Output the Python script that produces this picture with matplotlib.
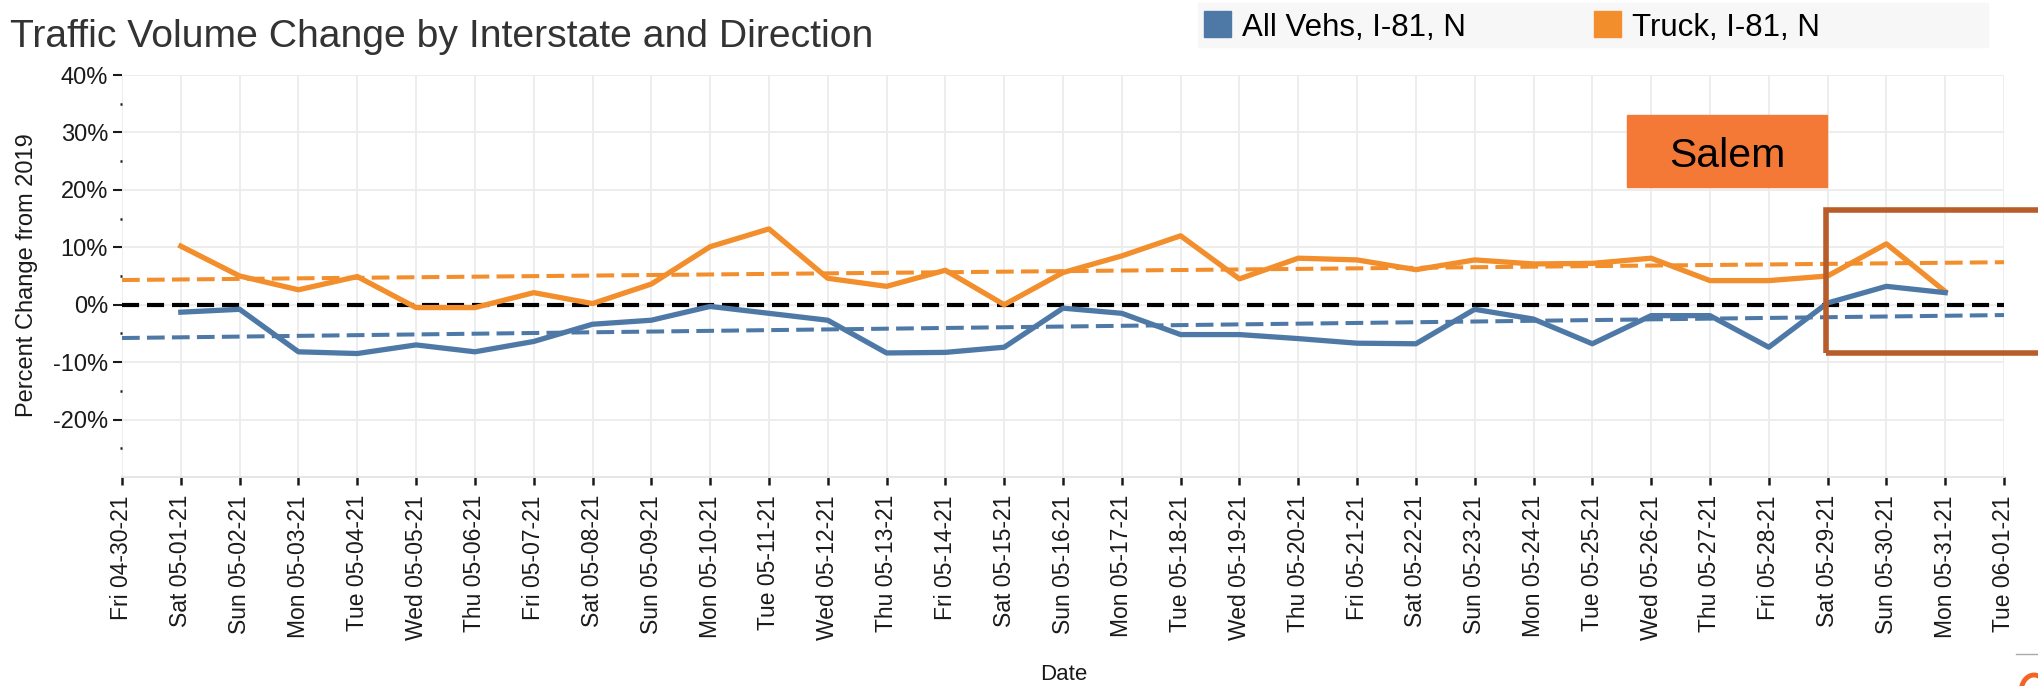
import matplotlib.pyplot as plt
import matplotlib.dates as mdates
from matplotlib.patches import Rectangle, Ellipse
import pandas as pd

plt.rcParams['font.family'] = ['Liberation Sans', 'DejaVu Sans']

# data (percent change from 2019), one value per day 05-01 .. 05-31
dates = pd.date_range('2021-05-01', '2021-05-31', freq='D')
all_vehs = [-1.3, -0.8, -8.2, -8.5, -7.0, -8.2, -6.4, -3.4, -2.7, -0.3, -1.5,
            -2.7, -8.4, -8.3, -7.4, -0.6, -1.5, -5.2, -5.2, -5.9, -6.7, -6.8,
            -0.8, -2.5, -6.8, -1.9, -1.9, -7.4, 0.3, 3.2, 2.1]
truck = [10.2, 5.0, 2.6, 4.9, -0.5, -0.5, 2.1, 0.2, 3.6, 10.1, 13.2,
         4.6, 3.2, 6.0, 0.0, 5.6, 8.5, 12.0, 4.5, 8.1, 7.8, 6.1,
         7.8, 7.1, 7.2, 8.1, 4.2, 4.2, 5.0, 10.6, 2.3]

# trend line end values at the axis edges
trend_dates = pd.to_datetime(['2021-04-30', '2021-06-01'])
all_vehs_trend = [-5.8, -1.8]
truck_trend = [4.3, 7.4]

y_ticks = [-20, -10, 0, 10, 20, 30, 40]
series_names = ['All Vehs, I-81, N', 'Truck, I-81, N']

BLUE = '#4e79a7'
ORANGE = '#f28e2b'
TXT = '#1a1a1a'
W, H = 2038, 686

fig = plt.figure(figsize=(W / 100, H / 100), dpi=100)
ax = fig.add_axes([122 / W, 1 - 477 / H, 1882 / W, 402 / H])

ax.plot(trend_dates, truck_trend, color=ORANGE, lw=2.9, dashes=(4.4, 1.8))
ax.plot(trend_dates, all_vehs_trend, color=BLUE, lw=2.9, dashes=(4.4, 1.8))
ax.axhline(0, color='black', lw=3, dashes=(4.1, 1.9), zorder=3)
ax.plot(dates, truck, color=ORANGE, lw=3.8, zorder=4)
ax.plot(dates, all_vehs, color=BLUE, lw=3.8, zorder=4)

ax.set_xlim(pd.Timestamp('2021-04-30'), pd.Timestamp('2021-06-01'))
ax.set_ylim(-30, 40)
ax.xaxis.set_major_locator(mdates.DayLocator())
ax.xaxis.set_major_formatter(mdates.DateFormatter('%a %m-%d-%y'))
ax.set_yticks(y_ticks)
ax.set_yticklabels([f'{v}%' for v in y_ticks])
ax.set_yticks([v + 5 for v in range(-30, 40, 10)], minor=True)

ax.grid(True, which='major', color='#ececec', lw=1.3)
ax.set_axisbelow(True)
for side in ['top', 'right', 'left']:
    ax.spines[side].set_visible(False)
ax.spines['bottom'].set_color('#e4e4e4')
ax.spines['bottom'].set_linewidth(1.3)

ax.tick_params(axis='x', length=6, width=1.8, color=TXT, pad=7,
               labelsize=16.5, labelcolor=TXT, labelrotation=90)
ax.tick_params(axis='y', which='major', length=6.5, width=1.5, color=TXT, pad=3.5,
               labelsize=17, labelcolor=TXT)
ax.tick_params(axis='y', which='minor', length=1.5, width=1.8, color=TXT)

fig.text(27 / W, 1 - 275 / H, 'Percent Change from 2019', rotation=90,
         ha='center', va='center', fontsize=17, color=TXT)
fig.text(1064 / W, 1 - 675 / H, 'Date', ha='center', va='center',
         fontsize=16, color=TXT)

# title
fig.text(10 / W, 1 - 46.7 / H, 'Traffic Volume Change by Interstate and Direction',
         ha='left', va='baseline', fontsize=28.2, color='#333333')

# legend strip
fig.patches.append(Rectangle((1198 / W, 1 - 47 / H), 790 / W, 44 / H,
                             transform=fig.transFigure, color='#f7f7f7', zorder=0))
for x0, col, name in [(1204, BLUE, series_names[0]), (1594, ORANGE, series_names[1])]:
    fig.patches.append(Rectangle((x0 / W, 1 - 37.3 / H), 27 / W, 26.6 / H,
                                 transform=fig.transFigure, color=col))
    fig.text((x0 + 38) / W, 1 - 35.7 / H, name, ha='left', va='baseline',
             fontsize=22.5, color='black')

# Salem callout
fig.patches.append(Rectangle((1627 / W, 1 - 187 / H), 200 / W, 72 / H,
                             transform=fig.transFigure, color='#f47937', zorder=5))
fig.text(1727 / W, 1 - 166.7 / H, 'Salem', ha='center', va='baseline',
         fontsize=29.5, color='black', zorder=6)

# highlight box around the last days
fig.patches.append(Rectangle((1826 / W, 1 - 353 / H), 260 / W, 143 / H,
                             transform=fig.transFigure, fill=False,
                             edgecolor='#b85c2a', lw=4, zorder=6))

# slide footer remnants (gray rule and edge of an orange ring)
fig.add_artist(plt.Line2D([2016 / W, 1.0], [1 - 654 / H, 1 - 654 / H],
                          transform=fig.transFigure, color='#aaaaaa', lw=1))
fig.patches.append(Ellipse((2034 / W, 1 - 692 / H), 26 / W, 34 / H,
                           transform=fig.transFigure, fill=False,
                           edgecolor='#f26522', lw=3.5))

fig.savefig('out.png', dpi=100)
